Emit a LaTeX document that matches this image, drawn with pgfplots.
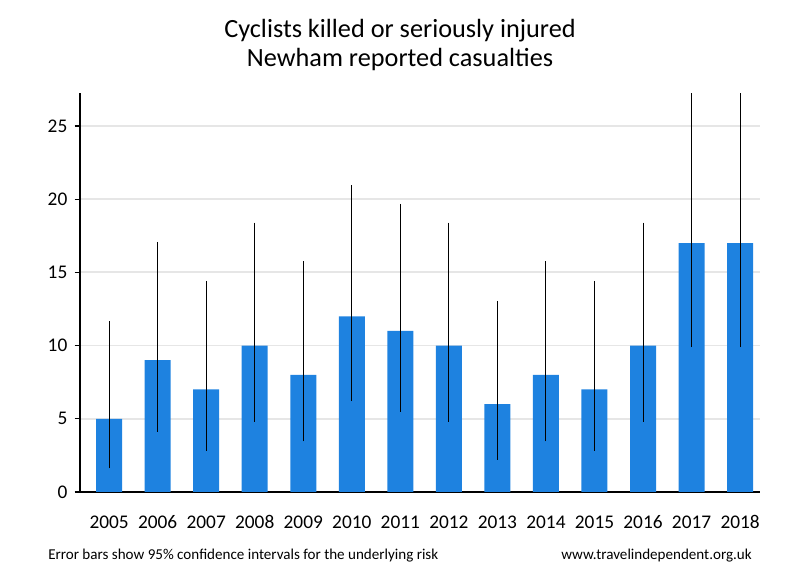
\documentclass[border=0pt]{standalone}
\usepackage{pgfplots}
\pgfplotsset{compat=1.18}
\usepackage{pgfplotstable}
\usepackage{fontspec}
\setmainfont{Carlito}
\definecolor{barblue}{RGB}{30,130,224}
\definecolor{gridgray}{RGB}{230,230,230}
\pgfplotstableread{
x y ep em
2005 5 6.67 3.38
2006 9 8.08 4.88
2007 7 7.42 4.19
2008 10 8.39 5.20
2009 8 7.76 4.55
2010 12 8.96 5.80
2011 11 8.68 5.51
2012 10 8.39 5.20
2013 6 7.06 3.80
2014 8 7.76 4.55
2015 7 7.42 4.19
2016 10 8.39 5.20
2017 17 10.22 7.10
2018 17 10.22 7.10
}\datatable
\begin{document}
\begin{tikzpicture}
\useasboundingbox (0,0) rectangle (600pt,435pt);
\node[anchor=base,font=\fontsize{19.7}{22}\selectfont] at (300pt,406.5pt) {Cyclists killed or seriously injured};
\node[anchor=base,font=\fontsize{19.7}{22}\selectfont] at (300pt,384.75pt) {Newham reported casualties};
\node[anchor=base west,inner sep=0pt,font=\fontsize{11.3}{13}\selectfont] at (36pt,15.5pt) {Error bars show 95\% confidence intervals for the underlying risk};
\node[anchor=base east,inner sep=0pt,font=\fontsize{11.3}{13}\selectfont] at (564pt,15.5pt) {www.travelindependent.org.uk};
\begin{axis}[
  at={(60pt,66pt)}, anchor=south west,
  width=510pt, height=299.25pt, scale only axis,
  xmin=2004.40, xmax=2018.41,
  ymin=0, ymax=27.25,
  axis x line=bottom, axis y line=left,
  axis line style={-, line width=1.5pt, black},
  xtick=data,
  xticklabels={2005,2006,2007,2008,2009,2010,2011,2012,2013,2014,2015,2016,2017,2018},
  xtick style={draw=none},
  ytick={0,5,10,15,20,25},
  yticklabels={0,5,10,15,20,25},
  ytick style={black, line width=0.9pt},
  tick align=outside,
  major tick length=4pt,
  ymajorgrids,
  grid style={gridgray, line width=1.3pt},
  ticklabel style={font=\fontsize{14.5}{16}\selectfont},
  xticklabel style={text height=10.5pt, text depth=0pt, yshift=-9pt},
  yticklabel style={xshift=-2pt},
]
\addplot[ybar, bar width=19.5pt, fill=barblue, draw=none,
  error bars/.cd, y dir=both, y explicit, error mark=none,
  error bar style={black, line width=0.7pt}]
  table[x=x, y=y, y error plus=ep, y error minus=em] {\datatable};
\end{axis}
\end{tikzpicture}
\end{document}
